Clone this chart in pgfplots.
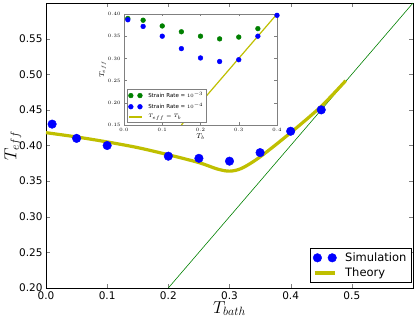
\documentclass[border=0pt]{standalone}
\usepackage{pgfplots}
\pgfplotsset{compat=1.18}
\usetikzlibrary{calc}
\usepackage{fontspec}
\setmainfont{DejaVu Sans}
\definecolor{mblue}{rgb}{0,0,1}
\definecolor{mgreen}{rgb}{0,0.5,0}
\definecolor{myellow}{rgb}{0.75,0.75,0}
\pgfplotsset{
  bigmarks/.style={legend image code/.code={\path[##1] plot[only marks] coordinates {(0.1cm,0cm) (0.62cm,0cm)}; \path (0.95cm,0cm);}},
  smallmarks/.style={legend image code/.code={\path[##1] plot[only marks] coordinates {(0.06cm,0cm) (0.38cm,0cm)}; \path (0.58cm,0cm);}},
}
\begin{document}
\begin{tikzpicture}
\begin{axis}[
    name=main,
    scale only axis,
    width=367pt, height=285pt,
    xmin=0, xmax=0.6, ymin=0.2, ymax=0.6,
    xtick={0,0.1,0.2,0.3,0.4,0.5},
    ytick={0.2,0.25,0.3,0.35,0.4,0.45,0.5,0.55},
    tick align=inside,
    major tick length=4pt,
    minor tick num=0,
    /pgf/number format/assume math mode=true,
    xticklabel style={/pgf/number format/.cd, fixed, fixed zerofill, precision=1},
    yticklabel style={/pgf/number format/.cd, fixed, fixed zerofill, precision=2},
    tick label style={font=\fontsize{10.5}{12}\selectfont},
    xlabel={$T_{bath}$},
    ylabel={$T_{eff}$},
    label style={font=\fontsize{16.5}{18}\selectfont},
    xlabel style={yshift=5pt},
    ylabel style={yshift=-9pt},
    legend style={at={(0.995,0.018)}, anchor=south east, draw=black,
        font=\fontsize{11.5}{13}\selectfont, cells={anchor=west},
        inner sep=2.5pt, row sep=1pt},
    legend image code/.code={\draw[#1] plot coordinates {(0cm,0cm) (0.72cm,0cm)}; \path (0.95cm,0cm);},
]
\addplot[mgreen, line width=0.6pt, forget plot] coordinates {(0.2,0.2) (0.6,0.6)};
\addplot[myellow, line width=3.2pt, smooth, forget plot] coordinates {
  (0,0.418) (0.05,0.412) (0.1,0.405) (0.15,0.397) (0.2,0.387) (0.25,0.376)
  (0.28,0.367) (0.3,0.364) (0.32,0.368) (0.35,0.384) (0.4,0.418) (0.45,0.455) (0.49,0.491)};
\addplot[only marks, mark=*, mark size=4.3pt, color=mblue, bigmarks]
  coordinates {(0.01,0.43) (0.05,0.41) (0.1,0.40) (0.2,0.385) (0.25,0.382) (0.3,0.378) (0.35,0.39) (0.4,0.42) (0.45,0.45)};
\addlegendentry{Simulation}
\addlegendimage{myellow, line width=3.2pt}
\addlegendentry{Theory}
\end{axis}
\begin{axis}[
    at={($(main.north west)+(78pt,-11pt)$)}, anchor=north west,
    scale only axis,
    width=153pt, height=111pt,
    axis background/.style={fill=white},
    axis line style={gray},
    xmin=0, xmax=0.4, ymin=0.15, ymax=0.4,
    xtick={0,0.1,0.2,0.3,0.4},
    ytick={0.15,0.2,0.25,0.3,0.35,0.4},
    tick align=inside,
    major tick length=2.5pt,
    tick style={gray},
    xticklabel style={/pgf/number format/.cd, fixed, fixed zerofill, precision=1},
    yticklabel style={/pgf/number format/.cd, fixed, fixed zerofill, precision=2},
    tick label style={font=\fontsize{5.5}{6}\selectfont},
    xlabel={$T_b$},
    ylabel={$T_{eff}$},
    label style={font=\fontsize{7}{8}\selectfont},
    xlabel style={yshift=5pt},
    ylabel style={yshift=-5pt},
    legend style={at={(0.02,0.02)}, anchor=south west, draw=gray,
        font=\fontsize{5.5}{6.5}\selectfont, cells={anchor=west},
        inner sep=1.2pt, row sep=0.3pt},
    legend image code/.code={\draw[#1] plot coordinates {(0cm,0cm) (0.45cm,0cm)}; \path (0.58cm,0cm);},
]
\addplot[only marks, mark=*, mark size=2.4pt, color=mgreen, smallmarks]
  coordinates {(0.01,0.39) (0.05,0.386) (0.1,0.373) (0.15,0.36) (0.2,0.35) (0.25,0.344) (0.3,0.348) (0.35,0.367)};
\addlegendentry{Strain Rate = $10^{-3}$}
\addplot[only marks, mark=*, mark size=2.4pt, color=mblue, smallmarks]
  coordinates {(0.01,0.387) (0.05,0.372) (0.1,0.35) (0.15,0.322) (0.2,0.301) (0.25,0.293) (0.3,0.297) (0.35,0.35) (0.4,0.397)};
\addlegendentry{Strain Rate = $10^{-4}$}
\addplot[myellow, line width=1.2pt] coordinates {(0.15,0.15) (0.4,0.4)};
\addlegendentry{$T_{eff} = T_b$}
\end{axis}
\pgfresetboundingbox
\path[use as bounding box] ([xshift=-46pt,yshift=-32pt]main.south west) rectangle ([xshift=2pt,yshift=3pt]main.north east);
\end{tikzpicture}
\end{document}
